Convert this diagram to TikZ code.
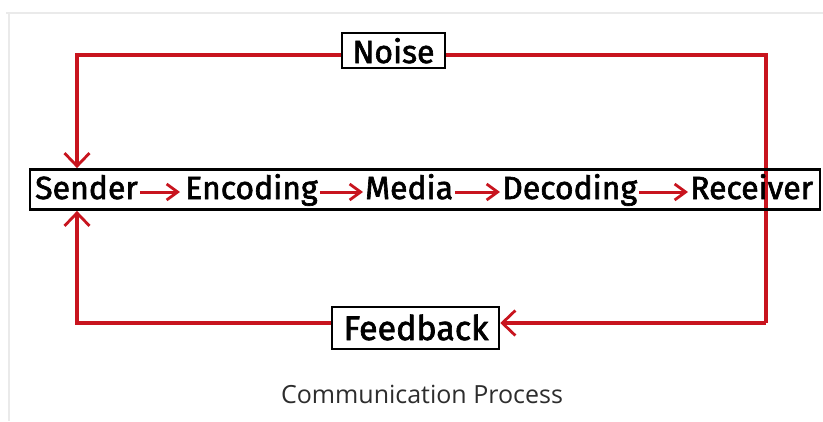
\documentclass[tikz,border=0pt]{standalone}
\usepackage{fontspec}
\usetikzlibrary{arrows.meta}
\newfontfamily\wordfont{Fira Sans}[FakeBold=2]
\newfontfamily\capfont{Open Sans}
\definecolor{loopred}{RGB}{200,20,30}
\definecolor{framegray}{RGB}{234,234,234}
\definecolor{capgray}{RGB}{45,45,45}
\begin{document}
\begin{tikzpicture}[x=1pt,y=-1pt,
  loopline/.style={draw=loopred,line width=3.2pt,line join=miter},
  looparrow/.style={loopline,-{Straight Barb[length=13pt,width=25pt,line width=2.8pt]}},
  inarrow/.style={draw=loopred,line width=3pt,-{Straight Barb[length=11pt,width=16pt,line width=2.8pt]}},
  word/.style={anchor=base west,inner sep=0pt,font=\wordfont\fontsize{32}{32}\selectfont},
  labelbox/.style={draw,line width=2.6pt,inner sep=0pt,font=\wordfont\fontsize{32}{32}\selectfont}]
\useasboundingbox (0,0) rectangle (823,421);
\fill[white] (0,0) rectangle (823,421);
% faint frame
\draw[framegray,line width=1.5pt] (6,13) -- (823,13);
\draw[framegray,line width=1.5pt] (9,13) -- (9,421);
% coordinates of loop corners
\coordinate (tl) at (77,55);
\coordinate (tr) at (766,55);
\coordinate (bl) at (77,323);
\coordinate (br) at (766,323);
% main row box
\node[draw,line width=2.8pt,minimum width=790pt,minimum height=40pt,inner sep=0pt] (row) at (425,189.5) {};
% noise and feedback boxes
\node[labelbox,minimum width=103pt,minimum height=35pt] (noise) at (393.5,50.5) {};
\node[labelbox,minimum width=167pt,minimum height=42pt] (feedback) at (415.5,328) {};
% loops
\draw[loopline] (noise.east |- tr) -- (tr) -- (br);
\draw[looparrow] (br) -- (feedback.east |- br);
\draw[looparrow] (noise.west |- tl) -- (tl) -- (tl |- row.north);
\draw[looparrow] (feedback.west |- bl) -- (bl) -- (bl |- row.south);
% redraw box border on top
\node[draw,line width=2.8pt,minimum width=790pt,minimum height=40pt,inner sep=0pt] at (row.center) {};
% labels
\node[anchor=base,inner sep=0pt,font=\wordfont\fontsize{32}{32}\selectfont] at (393.5,63) {Noise};
\node[anchor=base,inner sep=0pt,font=\wordfont\fontsize{34}{34}\selectfont] at (416,340) {Feedback};
% words
\node[word] (sender) at (35,199) {Sender};
\node[word] (encoding) at (185,199) {Encoding};
\node[word] (media) at (365,199) {Media};
\node[word] (decoding) at (502,199) {Decoding};
\node[word] (receiver) at (690,199) {Receiver};
\draw[inarrow] ([xshift=2pt,yshift=7pt]sender.base east) -- ([xshift=-5pt,yshift=7pt]encoding.base west);
\draw[inarrow] ([xshift=2pt,yshift=7pt]encoding.base east) -- ([xshift=-2pt,yshift=7pt]media.base west);
\draw[inarrow] ([xshift=2pt,yshift=7pt]media.base east) -- ([xshift=-2pt,yshift=7pt]decoding.base west);
\draw[inarrow] ([xshift=2pt,yshift=7pt]decoding.base east) -- ([xshift=-2pt,yshift=7pt]receiver.base west);
% caption
\node[anchor=base,inner sep=0pt,text=capgray,font=\capfont\fontsize{25}{25}\selectfont] (caption) at (422,403) {Communication Process};
\end{tikzpicture}
\end{document}
